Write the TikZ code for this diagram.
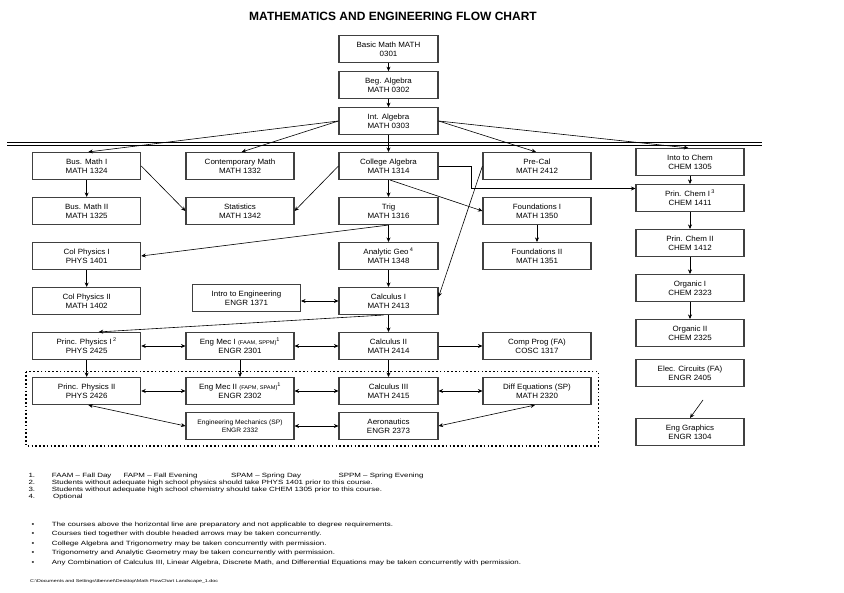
\documentclass[tikz,border=0pt]{standalone}
\usepackage{fontspec}
\setmainfont{Liberation Sans}
\newfontfamily\footfont[FakeStretch=1.3]{Liberation Sans}
\newfontfamily\boxfont[FakeStretch=1.05]{Liberation Sans}
\usetikzlibrary{arrows.meta}
\begin{document}
\begin{tikzpicture}[x=1pt,y=-1pt,
  box/.style={draw=black!75, line width=1.1pt, rectangle, minimum width=108pt, minimum height=27pt,
    inner sep=0pt, align=center, font=\boxfont\fontsize{7.6}{9}\selectfont},
  nbox/.style={box, minimum width=99pt},
  arr/.style={-{Stealth[length=4.5pt,width=4pt]}, line width=0.6pt},
  darr/.style={{Stealth[length=4.5pt,width=4pt]}-{Stealth[length=4.5pt,width=4pt]}, line width=0.6pt},
  foot/.style={anchor=base west, inner sep=0pt, font=\footfont\fontsize{6.1}{7}\selectfont},
]
\useasboundingbox (0,0) rectangle (844,593);
\fill[white] (0,0) rectangle (844,593);

\node[font=\bfseries\fontsize{12}{13}\selectfont] (title) at (393,16.5) {MATHEMATICS AND ENGINEERING FLOW CHART};

% double horizontal line
\draw[line width=1.3pt] (7,142.3) coordinate (hl1) -- (762,142.3) coordinate (hr1);
\draw[line width=1.3pt] (7,145.4) coordinate (hl2) -- (762,145.4) coordinate (hr2);

% top chain
\node[nbox, minimum height=26.6pt] (basic) at (388.5,49) {Basic Math MATH\\0301};
\node[nbox, minimum height=26.6pt] (beg) at (388.5,85) {Beg. Algebra\\MATH 0302};
\node[nbox, minimum height=26.6pt] (int) at (388.5,121) {Int. Algebra\\MATH 0303};

% row 1
\node[box] (bm1) at (86.7,166) {Bus. Math I\\MATH 1324};
\node[box] (cm) at (240,166) {Contemporary Math\\MATH 1332};
\node[nbox] (ca) at (388.5,166) {College Algebra\\MATH 1314};
\node[box] (pc) at (537,166) {Pre-Cal\\MATH 2412};
\node[box] (itc) at (690,162) {Into to Chem\\CHEM 1305};

% row 2
\node[box] (bm2) at (86.7,211) {Bus. Math II\\MATH 1325};
\node[box] (stat) at (240,211) {Statistics\\MATH 1342};
\node[nbox] (trig) at (388.5,211) {Trig\\MATH 1316};
\node[box] (f1) at (537,211) {Foundations I\\MATH 1350};

% chem column
\node[box] (pch1) at (690,198) {Prin. Chem I\,\textsuperscript{3}\\CHEM 1411};
\node[box] (pch2) at (690,243) {Prin. Chem II\\CHEM 1412};
\node[box] (org1) at (690,288) {Organic I\\CHEM 2323};
\node[box] (org2) at (690,333) {Organic II\\CHEM 2325};
\node[box] (elec) at (690,373) {Elec. Circuits (FA)\\ENGR 2405};
\node[box] (eg) at (690,432) {Eng Graphics\\ENGR 1304};

% row 3
\node[box] (cp1) at (86.7,256) {Col Physics I\\PHYS 1401};
\node[nbox] (ag) at (388.5,256) {Analytic Geo\,\textsuperscript{4}\\MATH 1348};
\node[box] (f2) at (537,256) {Foundations II\\MATH 1351};

% row 4
\node[box] (cp2) at (86.7,301) {Col Physics II\\MATH 1402};
\node[box] (ie) at (246.5,298.3) {Intro to Engineering\\ENGR 1371};
\node[nbox] (c1) at (388.5,301) {Calculus I\\MATH 2413};

% row 5
\node[box] (pp1) at (86.7,346) {Princ. Physics I\,\textsuperscript{2}\\PHYS 2425};
\node[box] (em1) at (240,346) {Eng Mec I {\fontsize{5.4}{6}\selectfont(FAAM, SPPM)}\textsuperscript{1}\\ENGR 2301};
\node[nbox] (c2) at (388.5,346) {Calculus II\\MATH 2414};
\node[box] (comp) at (537,346) {Comp Prog (FA)\\COSC 1317};

% dotted region
\draw[line width=1.6pt, dash pattern=on 1.6pt off 2.2pt] (26,371.7) rectangle (598.3,446);

% row 6
\node[box] (pp2) at (86.7,391) {Princ. Physics II\\PHYS 2426};
\node[box] (em2) at (240,391) {Eng Mec II {\fontsize{5.4}{6}\selectfont(FAPM, SPAM)}\textsuperscript{1}\\ENGR 2302};
\node[nbox] (c3) at (388.5,391) {Calculus III\\MATH 2415};
\node[box] (de) at (537,391) {Diff Equations (SP)\\MATH 2320};

% row 7
\node[box, font=\boxfont\fontsize{6.4}{8.5}\selectfont] (engm) at (240,426) {Engineering Mechanics (SP)\\ENGR 2332};
\node[nbox] (aero) at (388.5,426) {Aeronautics\\ENGR 2373};

% connectors
\draw[arr] (basic) -- (beg);
\draw[arr] (beg) -- (int);
\draw[arr] (int.west) -- ([xshift=1.6pt]bm1.north);
\draw[arr] (int.west) -- ([xshift=1.7pt]cm.north);
\draw[arr] (int) -- (ca);
\draw[arr] (int.east) -- ([xshift=-1pt]pc.north);
\draw[arr] (int.east) -- ([xshift=-1.7pt]itc.north);
\draw[arr] (itc) -- (pch1);
\draw[arr] (pch1) -- (pch2);
\draw[arr] (pch2) -- (org1);
\draw[arr] (org1) -- (org2);
\draw[arr] (ca.east) -- ++(33,0) |- ([yshift=9.5pt]pch1.west);
\draw[arr] (bm1) -- (bm2);
\draw[arr] (bm1.east) -- (stat.west);
\draw[arr] (ca.west) -- (stat.east);
\draw[arr] (ca) -- (trig);
\draw[arr] ([xshift=1.5pt]ca.south) -- (f1.west);
\draw[arr] (f1) -- (f2);
\draw[arr] (trig.south) -- (cp1.east);
\draw[arr] (trig) -- (ag);
\draw[arr] (ag) -- (c1);
\draw[arr] (pc.west) -- ([yshift=4pt]c1.east);
\draw[arr] (cp1) -- (cp2);
\draw[darr] (ie.east |- c1.west) -- (c1.west);
\draw[arr] ([xshift=-5pt]c1.south) -- ([xshift=12pt]pp1.north);
\draw[arr] (c1) -- (c2);
\draw[darr] (pp1) -- (em1);
\draw[darr] (em1) -- (c2);
\draw[arr] (c2) -- (comp);
\draw[arr] (pp1) -- (pp2);
\draw[arr] (em1) -- (em2);
\draw[arr] (c2) -- (c3);
\draw[darr] (pp2) -- (em2);
\draw[darr] (em2) -- (c3);
\draw[darr] (c3) -- (de);
\draw[darr] (engm) -- (aero);
\draw[darr] (aero.east) -- ([xshift=-2pt]de.south);
\draw[darr] ([xshift=1.6pt]pp2.south) -- (engm.west);
\coordinate (egsrc) at (703,400);
\draw[arr] (egsrc) -- (eg.north);

% footnotes
\node[foot] (n1) at (28.3,478) {1.};
\node[foot] (t1a) at (51.7,478) {FAAM \textendash{} Fall Day};
\node[foot] (t1b) at (123.3,478) {FAPM \textendash{} Fall Evening};
\node[foot] (t1c) at (231,478) {SPAM \textendash{} Spring Day};
\node[foot] (t1d) at (338.3,478) {SPPM \textendash{} Spring Evening};
\node[foot] (n2) at (28.3,485) {2.};
\node[foot] (t2) at (51.7,485) {Students without adequate high school physics should take PHYS 1401 prior to this course.};
\node[foot] (n3) at (28.3,492) {3.};
\node[foot] (t3) at (51.7,492) {Students without adequate high school chemistry should take CHEM 1305 prior to this course.};
\node[foot] (n4) at (28.3,499) {4.};
\node[foot] (t4) at (53,499) {Optional};

\foreach \yy/\tx [count=\i] in {
  526/{The courses above the horizontal line are preparatory and not applicable to degree requirements.},
  536/{Courses tied together with double headed arrows may be taken concurrently.},
  545.3/{College Algebra and Trigonometry may be taken concurrently with permission.},
  554.3/{Trigonometry and Analytic Geometry may be taken concurrently with permission.},
  564.3/{Any Combination of Calculus III, Linear Algebra, Discrete Math, and Differential Equations may be taken concurrently with permission.}}{
  \node[foot] (b\i) at (31.5,\yy) {\textbullet};
  \node[foot] (bt\i) at (51.7,\yy) {\tx};
}
\node[anchor=base west, inner sep=0pt, font=\footfont\fontsize{4.1}{5}\selectfont] (path) at (30,582.5) {C:\textbackslash Documents and Settings\textbackslash tbennet\textbackslash Desktop\textbackslash Math FlowChart Landscape\_1.doc};
\end{tikzpicture}
\end{document}
